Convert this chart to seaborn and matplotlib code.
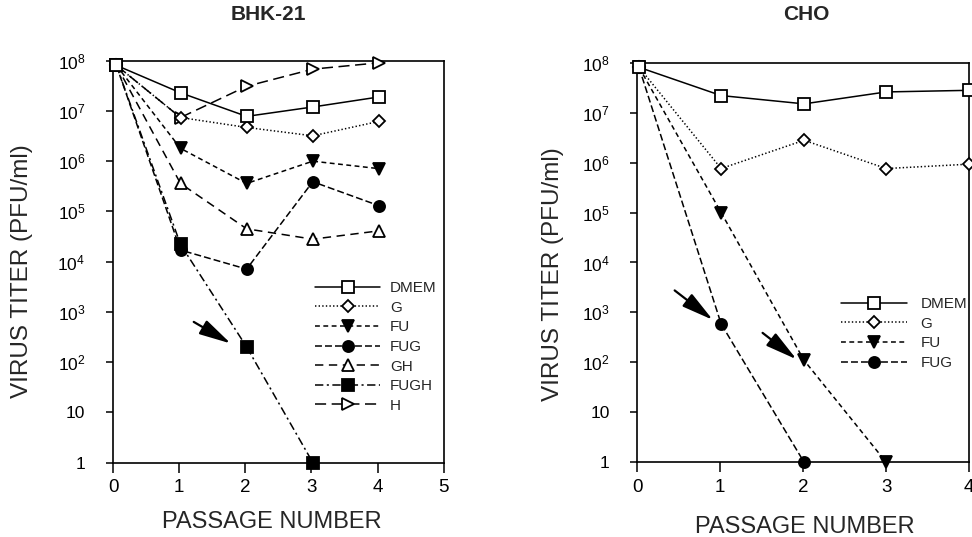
import pandas as pd
import matplotlib
matplotlib.use("Agg")
import matplotlib.pyplot as plt
import seaborn as sns
from matplotlib.ticker import FixedLocator, NullLocator

# --- data (titer in PFU/ml) ---
bhk_passage = [0.05, 1.02, 2.02, 3.02, 4.02]
bhk_dmem = [8.1e7, 2.3e7, 7.8e6, 1.2e7, 1.9e7]
bhk_g = [8.1e7, 7.4e6, 4.7e6, 3.2e6, 6.2e6]
bhk_fu = [8.1e7, 1.8e6, 3.6e5, 1.0e6, 7.1e5]
bhk_fug = [8.1e7, 1.7e4, 7.1e3, 3.9e5, 1.3e5]
bhk_gh = [8.1e7, 3.6e5, 4.5e4, 2.8e4, 4.1e4]
bhk_fugh = [8.1e7, 2.2e4, 2.0e2, 1.0]
bhk_h = [8.1e7, 7.4e6, 3.1e7, 6.8e7, 9.1e7]

cho_passage = [0.02, 1.01, 2.01, 3.0, 4.0]
cho_dmem = [8.1e7, 2.2e7, 1.5e7, 2.6e7, 2.8e7]
cho_g = [8.1e7, 7.6e5, 2.8e6, 7.6e5, 9.3e5]
cho_fu = [8.1e7, 1.0e5, 1.1e2, 1.0]
cho_fug = [8.1e7, 5.9e2, 1.0]

decades = [1, 10, 1e2, 1e3, 1e4, 1e5, 1e6, 1e7, 1e8]
decade_labels = ['1', '10'] + [f'$10^{{{k}}}$' for k in range(2, 9)]

# line / marker look for each treatment
styles = {
    'DMEM': dict(linestyle='-', marker='s', markersize=8, markerfacecolor='white'),
    'G': dict(linestyle=(0, (1, 1.6)), marker='D', markersize=6.5, markerfacecolor='white'),
    'FU': dict(linestyle=(0, (3.5, 2.5)), marker='v', markersize=8.5, markerfacecolor='black'),
    'FUG': dict(linestyle=(0, (5, 2.2)), marker='o', markersize=8, markerfacecolor='black'),
    'GH': dict(linestyle=(0, (6, 4)), marker='^', markersize=8.5, markerfacecolor='white'),
    'FUGH': dict(linestyle=(0, (6, 2.5, 1.5, 2.5)), marker='s', markersize=8, markerfacecolor='black'),
    'H': dict(linestyle=(0, (8, 4)), marker='>', markersize=8.5, markerfacecolor='white'),
}

sns.set_style('white')
plt.rcParams['font.family'] = ['Liberation Sans', 'DejaVu Sans']
plt.rcParams['mathtext.fontset'] = 'custom'
plt.rcParams['mathtext.rm'] = 'Liberation Sans'
plt.rcParams['mathtext.it'] = 'Liberation Sans:italic'
plt.rcParams['mathtext.bf'] = 'Liberation Sans:bold'
plt.rcParams['lines.scale_dashes'] = False

fig = plt.figure(figsize=(9.72, 5.37), dpi=100)
ax1 = fig.add_axes([0.1163, 0.1387, 0.3402, 0.7482])
ax2 = fig.add_axes([0.6557, 0.1393, 0.3413, 0.7439])


def draw(ax, passage, series):
    for i, (name, titer) in enumerate(series):
        df = pd.DataFrame({'passage': passage[:len(titer)], 'titer': titer})
        sns.lineplot(data=df, x='passage', y='titer', ax=ax, color='black',
                     linewidth=1.1, markeredgecolor='black', markeredgewidth=1.3,
                     errorbar=None, label=name, clip_on=False, zorder=10 - i,
                     **styles[name])


draw(ax1, bhk_passage, [('DMEM', bhk_dmem), ('G', bhk_g), ('FU', bhk_fu),
                        ('FUG', bhk_fug), ('GH', bhk_gh), ('FUGH', bhk_fugh),
                        ('H', bhk_h)])
draw(ax2, cho_passage, [('DMEM', cho_dmem), ('G', cho_g), ('FU', cho_fu),
                        ('FUG', cho_fug)])

arrow_kw = dict(arrowstyle='-|>,head_length=1.3,head_width=0.32', color='black',
                lw=1.6, mutation_scale=15, shrinkA=0, shrinkB=0)
ax1.annotate('', xy=(1.78, 10 ** 2.37), xytext=(1.22, 10 ** 2.8), arrowprops=arrow_kw)
ax2.annotate('', xy=(0.91, 10 ** 2.85), xytext=(0.45, 10 ** 3.44), arrowprops=arrow_kw)
ax2.annotate('', xy=(1.92, 10 ** 2.06), xytext=(1.51, 10 ** 2.59), arrowprops=arrow_kw)

for ax, xmax in ((ax1, 5), (ax2, 4)):
    ax.set_yscale('log')
    ax.set_ylim(1, 1e8)
    ax.set_xlim(0, xmax)
    ax.yaxis.set_major_locator(FixedLocator(decades))
    ax.yaxis.set_minor_locator(NullLocator())
    ax.set_yticklabels(decade_labels)
    ax.set_xticks(range(xmax + 1))
    ax.tick_params(axis='y', direction='out', length=5, width=1.1, pad=15,
                   labelsize=12.5, color='black', labelcolor='black', left=True)
    ax.tick_params(axis='x', direction='out', length=7, width=1.1, pad=5,
                   labelsize=13.5, color='black', labelcolor='black', bottom=True)
    for sp in ax.spines.values():
        sp.set_visible(True)
        sp.set_color('black')
        sp.set_linewidth(1.2)

ax1.set_xlabel('PASSAGE NUMBER', fontsize=17, va='center')
ax1.xaxis.set_label_coords(0.479, -0.149)
ax1.set_ylabel('VIRUS TITER (PFU/ml)', fontsize=17.5, va='center')
ax1.yaxis.set_label_coords(-0.275, 0.476)
ax1.set_title('BHK-21', fontsize=15, fontweight='bold', x=0.469, y=1.095, va='center')

ax2.set_xlabel('PASSAGE NUMBER', fontsize=17, va='center')
ax2.xaxis.set_label_coords(0.5056, -0.162)
ax2.set_ylabel('VIRUS TITER (PFU/ml)', fontsize=17.5, va='center')
ax2.yaxis.set_label_coords(-0.255, 0.471)
ax2.set_title('CHO', fontsize=15, fontweight='bold', x=0.508, y=1.10, va='center')

ax1.legend(loc='upper left', bbox_to_anchor=(0.611, 0.452), frameon=False,
           fontsize=11, handlelength=4.25, handletextpad=0.65, labelspacing=0.37,
           borderpad=0, borderaxespad=0, numpoints=1)
ax2.legend(loc='upper left', bbox_to_anchor=(0.613, 0.4135), frameon=False,
           fontsize=11, handlelength=4.35, handletextpad=0.87, labelspacing=0.37,
           borderpad=0, borderaxespad=0, numpoints=1)

fig.savefig('out.png', dpi=100)
